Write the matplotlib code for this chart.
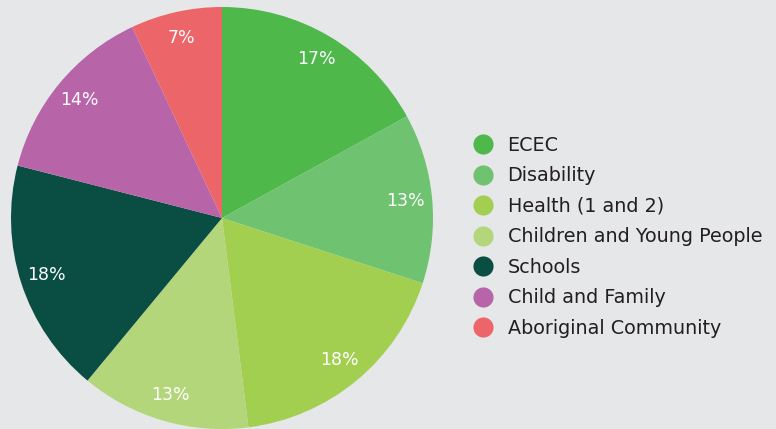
import matplotlib
matplotlib.use('Agg')
import matplotlib.pyplot as plt
from matplotlib.lines import Line2D

# data
categories = ['ECEC', 'Disability', 'Health (1 and 2)', 'Children and Young People',
              'Schools', 'Child and Family', 'Aboriginal Community']
shares = [17, 13, 18, 13, 18, 14, 7]
colors = ['#4eb84b', '#6fc26f', '#a3cf50', '#b4d67a', '#0a4d43', '#b765a8', '#ec6568']

bg = '#e6e7e8'
plt.rcParams['font.family'] = ['DejaVu Sans']

fig = plt.figure(figsize=(7.76, 4.29), dpi=100)
fig.patch.set_facecolor(bg)

# pie axes: centre ~ (222, 218) px, radius ~ 211 px
ax = fig.add_axes([11 / 776, 0 / 429, 422 / 776, 422 / 429])
ax.set_facecolor(bg)
wedges, texts, autotexts = ax.pie(
    shares, colors=colors, startangle=90, counterclock=False,
    autopct='%d%%', pctdistance=0.875, radius=1,
    wedgeprops=dict(linewidth=0),
    textprops=dict(color='white', fontsize=12.5))
ax.set_xlim(-1, 1)
ax.set_ylim(-1, 1)
ax.set_aspect('equal')
ax.axis('off')

# legend
handles = [Line2D([], [], marker='o', linestyle='', markersize=14.5,
                  markerfacecolor=c, markeredgewidth=0) for c in colors]
leg = fig.legend(handles, categories, loc='upper left',
                 bbox_to_anchor=(473 / 776, 1 - 136 / 429),
                 frameon=False, fontsize=13.8, labelspacing=0.6,
                 handletextpad=0.75, handlelength=1.05, borderpad=0,
                 borderaxespad=0)
for t in leg.get_texts():
    t.set_color('#231f20')

fig.savefig('out.png', dpi=100, facecolor=bg)
